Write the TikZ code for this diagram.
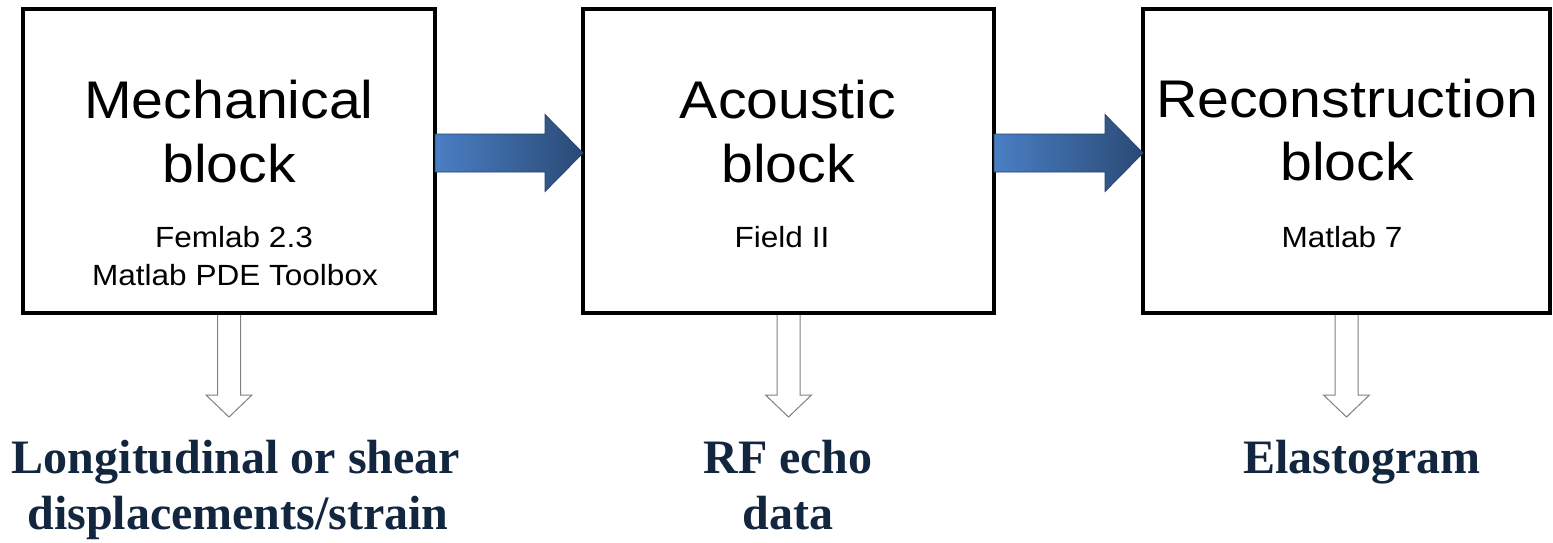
\documentclass[tikz,border=0pt]{standalone}
\usepackage{fontspec}
\setmainfont{Liberation Sans}
\newfontfamily\blockfont[FakeStretch=1.08]{Liberation Sans}
\newfontfamily\labelfont{Liberation Serif}
\usetikzlibrary{calc}
\definecolor{navy}{HTML}{12263F}
\definecolor{flowlight}{HTML}{4A7FC4}
\definecolor{flowdark}{HTML}{2A4A76}
\definecolor{flowedge}{HTML}{24426B}

\begin{document}
\begin{tikzpicture}[x=1pt,y=-1pt,
  blockbox/.style={draw=black, line width=4pt, minimum height=304pt, inner sep=0pt, outer sep=0pt},
  title/.style={font=\blockfont\fontsize{53}{64}\selectfont, anchor=base, inner sep=0pt},
  tool/.style={font=\blockfont\fontsize{29.2}{38}\selectfont, anchor=base, inner sep=0pt},
  result/.style={font=\labelfont\bfseries\fontsize{48}{56}\selectfont, text=navy, anchor=base, inner sep=0pt},
  flow/.style={left color=flowlight, right color=flowdark, draw=flowedge, line width=0.8pt, line join=miter},
  outlet/.style={fill=white, draw=black!50, line width=1pt}
]
\useasboundingbox (0,0) rectangle (1553,542);

% processing blocks
\node[blockbox, minimum width=412pt] (b1) at (229,161) {};
\node[blockbox, minimum width=411pt] (b2) at (788.5,161) {};
\node[blockbox, minimum width=407pt] (b3) at (1346.5,161) {};

% block titles and tools
\node[title] (m1) at (229,118) {Mechanical};
\node[title] (m2) at (229,182) {block};
\node[tool]  (f1) at (234,247) {Femlab 2.3};
\node[tool]  (f2) at (235,285) {Matlab PDE Toolbox};

\node[title] (a1) at (788,118) {Acoustic};
\node[title] (a2) at (788,182) {block};
\node[tool]  (g1) at (782,247) {Field II};

\node[title] (c1) at (1347,117) {Reconstruction};
\node[title] (c2) at (1347,180) {block};
\node[tool]  (k1) at (1342,247) {Matlab 7};

% block arrows between the stages
\foreach \s/\t/\n in {b1/b2/1, b2/b3/2}{
  \coordinate (h\n a) at ($(\s.east)+(0,-8)$);
  \coordinate (h\n b) at ($(\t.west)+(0,-8)$);
  \path[flow] ($(h\n a)+(0,-19)$) -- ($(h\n b)+(-38,-19)$) -- ($(h\n b)+(-38,-38.5)$)
    -- (h\n b) -- ($(h\n b)+(-38,38.5)$) -- ($(h\n b)+(-38,19)$) -- ($(h\n a)+(0,19)$) -- cycle;
}

% output arrows
\foreach \s/\n in {b1/1, b2/2, b3/3}{
  \coordinate (d\n) at ($(\s.south)+(0,104)$);
  \path[outlet] ($(\s.south)+(-11.5,2)$) -- ($(d\n)+(-11.5,-22)$) -- ($(d\n)+(-23,-22)$)
    -- (d\n) -- ($(d\n)+(23,-22)$) -- ($(d\n)+(11.5,-22)$) -- ($(\s.south)+(11.5,2)$);
}

% outputs
\node[result] (r1a) at (236,473) {Longitudinal or shear};
\node[result] (r1b) at (238,529) {displacements/strain};
\node[result] (r2a) at (788,473) {RF echo};
\node[result] (r2b) at (788,529) {data};
\node[result] (r3)  at (1362,473) {Elastogram};
\end{tikzpicture}
\end{document}
